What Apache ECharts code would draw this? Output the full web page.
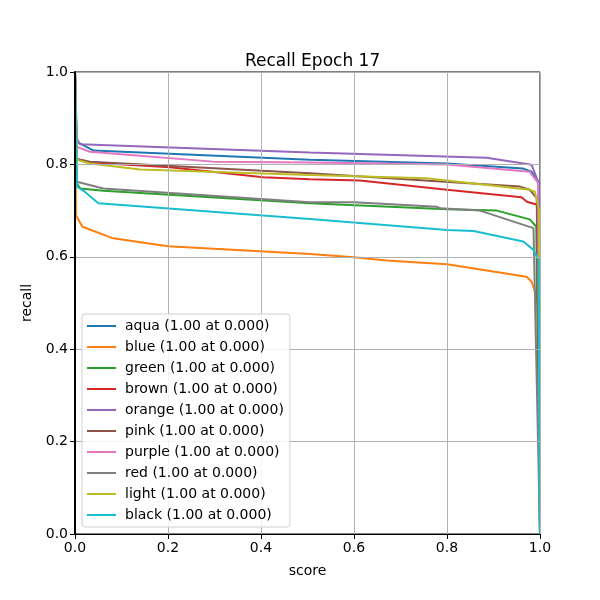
<!DOCTYPE html>
<html><head><meta charset="utf-8">
<script src="https://cdn.jsdelivr.net/npm/echarts@6/dist/echarts.min.js"></script>
<style>html,body{margin:0;padding:0;background:#fff}#c{width:600px;height:600px}</style>
</head><body><div id="c"></div>
<script>
const names = ['aqua','blue','green','brown','orange','pink','purple','red','light','black'];
const colors = ['#1f77b4','#ff7f0e','#2ca02c','#d62728','#9467bd','#8c564b','#e377c2','#7f7f7f','#bcbd22','#17becf'];
const xTicks = [0,0.2,0.4,0.6,0.8,1.0];
const yTicks = [0,0.2,0.4,0.6,0.8,1.0];
const aquaPts = [[0,1],[0.004,0.849],[0.04,0.83],[0.505,0.81],[0.8,0.802],[0.964,0.791],[0.982,0.784],[0.998,0.76],[1,0]];
const bluePts = [[0,1],[0.002,0.69],[0.016,0.665],[0.082,0.64],[0.2,0.623],[0.505,0.606],[0.6,0.599],[0.67,0.592],[0.8,0.584],[0.971,0.557],[0.982,0.546],[0.993,0.514],[0.997,0.492],[1,0]];
const greenPts = [[0,1],[0.003,0.76],[0.011,0.748],[0.061,0.743],[0.505,0.716],[0.8,0.703],[0.907,0.70],[0.978,0.681],[0.992,0.665],[1,0]];
const brownPts = [[0,1],[0.004,0.812],[0.032,0.804],[0.204,0.794],[0.405,0.772],[0.505,0.768],[0.613,0.765],[0.8,0.745],[0.96,0.729],[0.972,0.719],[0.996,0.712],[1,0]];
const orangePts = [[0,1],[0.003,0.857],[0.011,0.8435],[0.505,0.826],[0.885,0.8145],[0.982,0.799],[0.997,0.76],[1,0]];
const pinkPts = [[0,1],[0.004,0.812],[0.032,0.806],[0.505,0.781],[0.957,0.752],[0.978,0.745],[0.993,0.727],[1,0]];
const purplePts = [[0,1],[0.004,0.838],[0.032,0.8275],[0.297,0.806],[0.505,0.804],[0.8,0.80],[0.978,0.784],[0.996,0.76],[1,0]];
const redPts = [[0,1],[0.004,0.7626],[0.061,0.748],[0.505,0.718],[0.6,0.718],[0.778,0.7085],[0.785,0.705],[0.871,0.70],[0.986,0.662],[1,0]];
const lightPts = [[0,1],[0.004,0.81],[0.032,0.802],[0.14,0.789],[0.505,0.777],[0.756,0.77],[0.978,0.745],[0.989,0.741],[0.998,0.70],[1,0]];
const blackPts = [[0,1],[0.004,0.752],[0.021,0.741],[0.05,0.716],[0.505,0.682],[0.8,0.658],[0.857,0.656],[0.964,0.633],[0.986,0.615],[0.997,0.593],[1,0]];
const allPts = [aquaPts,bluePts,greenPts,brownPts,orangePts,pinkPts,purplePts,redPts,lightPts,blackPts];
const labels = names.map(n => n + ' (1.00 at 0.000)');
const font = 'DejaVu Sans';
const chart = echarts.init(document.getElementById('c'));
const axisCommon = {
  type:'value',min:0,max:1,interval:0.2,nameLocation:'middle',z:20,
  nameTextStyle:{fontFamily:font,fontSize:14,color:'#000'},
  axisLine:{show:true,lineStyle:{color:'#000'}},axisTick:{show:true,length:5,lineStyle:{color:'#000'}},
  axisLabel:{fontFamily:font,fontSize:14,color:'#000',margin:7,formatter:v=>yTicks.includes(+v.toFixed(1))?v.toFixed(1):''},
  splitLine:{show:true,lineStyle:{color:'#b0b0b0',width:1}}
};
chart.setOption({
  animation:false,
  backgroundColor:'#fff',
  title:{text:'Recall Epoch 17',left:240,top:48,textStyle:{fontFamily:font,fontSize:17,fontWeight:'normal',color:'#000'}},
  grid:{left:75,right:60,top:72,bottom:66,show:true,borderColor:'#000',borderWidth:1,backgroundColor:'transparent'},
  legend:{orient:'vertical',left:82,top:314,z:30,data:labels.map(l=>({name:l,icon:'rect'})),
    itemWidth:29,itemHeight:2,itemGap:7,padding:[5,6,5,5],
    backgroundColor:'rgba(255,255,255,0.85)',borderColor:'#d0d0d0',borderWidth:1,borderRadius:3,
    textStyle:{fontFamily:font,fontSize:14,lineHeight:14,color:'#000',padding:[0,0,0,4]}},
  xAxis:Object.assign({},axisCommon,{name:'score',nameGap:30,
    axisLabel:Object.assign({},axisCommon.axisLabel,{formatter:v=>xTicks.includes(+v.toFixed(1))?v.toFixed(1):''})}),
  yAxis:Object.assign({},axisCommon,{name:'recall',nameGap:35,axisLine:{show:true,lineStyle:{color:'#000',width:2}}}),
  series: allPts.map((pts,i)=>({name:labels[i],type:'line',data:pts,showSymbol:false,symbol:'none',
    lineStyle:{color:colors[i],width:2},itemStyle:{color:colors[i]},z:2+i}))
});
</script></body></html>
